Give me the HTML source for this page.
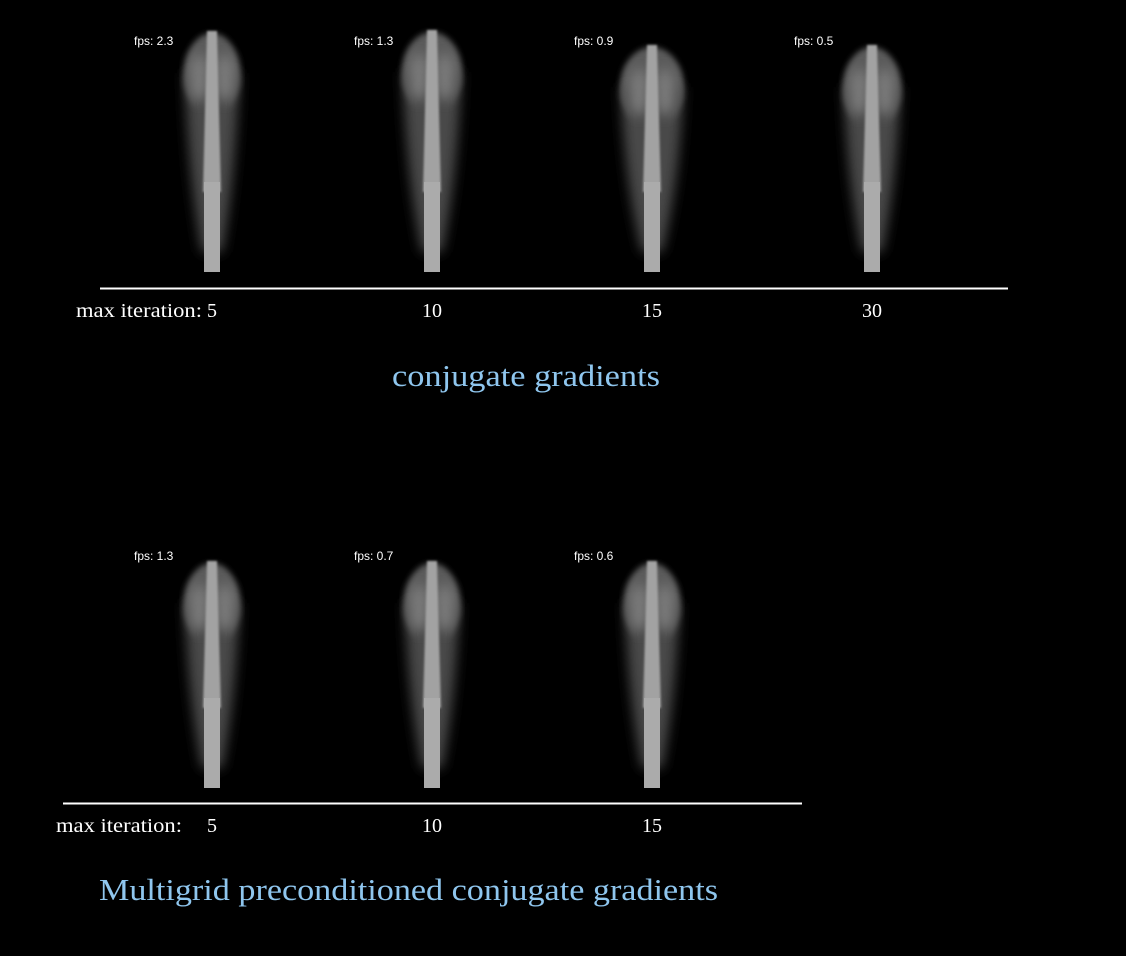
<!DOCTYPE html>
<html><head><meta charset="utf-8"><style>
html,body{margin:0;padding:0;background:#000;}
svg{display:block;}
</style></head><body>
<svg id="fig" width="1126" height="956" viewBox="0 0 1126 956" xmlns="http://www.w3.org/2000/svg">
<defs>
<filter id="b6" x="-50%" y="-50%" width="200%" height="200%"><feGaussianBlur stdDeviation="6"/></filter>
<filter id="b3" x="-50%" y="-50%" width="200%" height="200%"><feGaussianBlur stdDeviation="3"/></filter>
<filter id="b1" x="-50%" y="-50%" width="200%" height="200%"><feGaussianBlur stdDeviation="1"/></filter>
</defs>
<g id="top"></g>
<g id="bot"></g>
<line x1="100" y1="288.5" x2="1008" y2="288.5" stroke="#fff" stroke-width="2"/>
<line x1="63" y1="803.5" x2="802" y2="803.5" stroke="#fff" stroke-width="2"/>
<text x="76" y="317" font-family="Liberation Serif, serif" font-size="20" fill="#fff" textLength="126" lengthAdjust="spacingAndGlyphs">max iteration:</text>
<text x="56" y="832" font-family="Liberation Serif, serif" font-size="20" fill="#fff" textLength="126" lengthAdjust="spacingAndGlyphs">max iteration:</text>
<text x="392" y="386" font-family="Liberation Serif, serif" font-size="31" fill="#8fc6ee" textLength="268" lengthAdjust="spacingAndGlyphs">conjugate gradients</text>
<text x="99" y="900" font-family="Liberation Serif, serif" font-size="31" fill="#8fc6ee" textLength="619" lengthAdjust="spacingAndGlyphs">Multigrid preconditioned conjugate gradients</text>
</svg>
<script>
const cgIterations = ["5","10","15","30"];
const cgFps = ["2.3","1.3","0.9","0.5"];
const cgHeadTop = [28, 27, 42, 42];
const cgHeadWidth = [60, 64, 68, 62];
const mgIterations = ["5","10","15"];
const mgFps = ["1.3","0.7","0.6"];
const mgHeadTop = [558, 558, 558];
const mgHeadWidth = [60, 60, 60];

const NS = "http://www.w3.org/2000/svg";
function mk(tag, attrs, parent){
  const e = document.createElementNS(NS, tag);
  for (const k in attrs) e.setAttribute(k, attrs[k]);
  parent.appendChild(e);
  return e;
}
function xPos(i){ return 212 + i * 220; }

function drawPanel(gid, iters, fps, heads, widths, baseY, labelY, fpsY){
  const g = document.getElementById(gid);
  iters.forEach(function(it, i){
    const cx = xPos(i);
    const top = heads[i];
    const w = widths[i];
    const pg = mk("g", {}, g);
    
    
    const len = baseY - top;
    mk("ellipse", {cx: cx, cy: top + 45, rx: w/2 - 2, ry: 40, fill: "#5a5a5a", filter: "url(#b3)"}, pg);
    mk("path", {d: "M"+(cx-w/2+3)+","+(top+45)+" Q"+(cx-w/2+6)+","+(top+len*0.6)+" "+(cx-10)+","+(baseY-20)+" L"+(cx+10)+","+(baseY-20)+" Q"+(cx+w/2-6)+","+(top+len*0.6)+" "+(cx+w/2-3)+","+(top+45)+" Z", fill: "#4a4a4a", filter: "url(#b6)"}, pg);
    mk("ellipse", {cx: cx-13, cy: top + 50, rx: 10, ry: 24, fill: "#7a7a7a", filter: "url(#b6)"}, pg);
    mk("ellipse", {cx: cx+13, cy: top + 50, rx: 10, ry: 24, fill: "#7a7a7a", filter: "url(#b6)"}, pg);
    mk("path", {d: "M"+(cx-5)+","+(top+3)+" L"+(cx+5)+","+(top+3)+" L"+(cx+9)+","+(baseY-80)+" L"+(cx-9)+","+(baseY-80)+" Z", fill: "#a2a2a2", filter: "url(#b1)"}, pg);
    mk("rect", {x: cx-8, y: baseY-90, width: 16, height: 90, fill: "#ababab"}, pg);
    const t = mk("text", {x: cx - 78, y: fpsY, "font-family": "Liberation Sans, sans-serif", "font-size": "12", fill: "#fff"}, g);
    t.textContent = "fps: " + fps[i];
    
    
    const l = mk("text", {x: cx, y: labelY, "text-anchor": "middle", "font-family": "Liberation Serif, serif", "font-size": "20", fill: "#fff"}, g);
    l.textContent = it;
    
    
  });
}
drawPanel("top", cgIterations, cgFps, cgHeadTop, cgHeadWidth, 272, 317, 45);
drawPanel("bot", mgIterations, mgFps, mgHeadTop, mgHeadWidth, 788, 832, 560);
</script>
</body></html>
